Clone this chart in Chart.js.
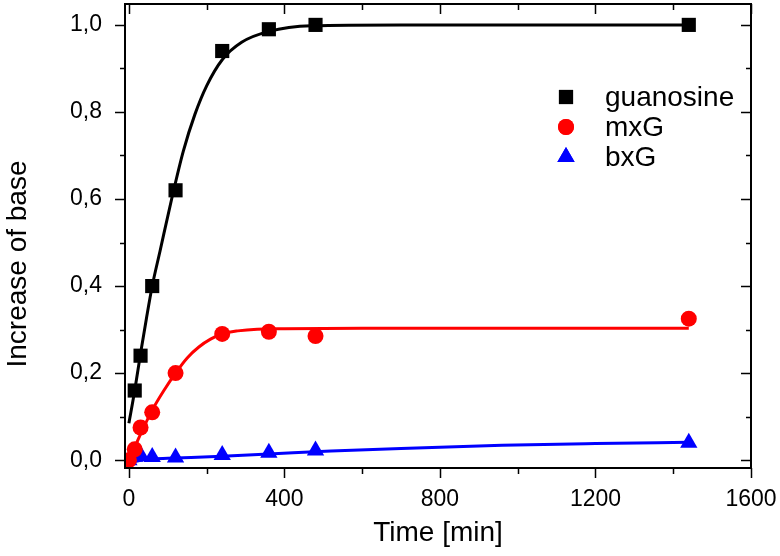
<!DOCTYPE html>
<html>
<head>
<meta charset="utf-8">
<script src="https://cdn.jsdelivr.net/npm/chart.js@4"></script>
<style>
  html, body { margin: 0; padding: 0; background: #fff; }
  #wrap { width: 780px; height: 556px; }
</style>
</head>
<body>
<div id="wrap"><canvas id="c"></canvas></div>
<script>
// measured points
const timeMin = [0, 15, 30, 60, 120, 240, 360, 480, 1440];
const guanosine = [null, 0.16, 0.24, 0.40, 0.62, 0.94, 0.99, 1.0, 1.0];
const mxG = [0.0, 0.025, 0.075, 0.11, 0.20, 0.29, 0.295, 0.285, 0.325];
const bxG = [0.0, 0.008, 0.012, 0.007, 0.006, 0.012, 0.017, 0.022, 0.04];

// fitted curves
const guanosineFitX = [0, 15, 30, 45, 60, 80, 110, 140, 170, 200, 240, 290, 360, 470, 700, 1440];
const guanosineFitY = [0.085, 0.16, 0.245, 0.325, 0.40, 0.48, 0.60, 0.71, 0.795, 0.86, 0.92, 0.96, 0.985, 0.998, 1.0, 1.0];
const mxGFitX = [0, 15, 30, 60, 90, 120, 150, 180, 210, 240, 280, 330, 400, 600, 1440];
const mxGFitY = [0.005, 0.03, 0.06, 0.115, 0.16, 0.20, 0.235, 0.26, 0.278, 0.29, 0.297, 0.301, 0.302, 0.303, 0.303];
const bxGFitX = [0, 30, 60, 120, 240, 360, 520, 700, 960, 1200, 1440];
const bxGFitY = [-0.006, 0.0, 0.003, 0.005, 0.009, 0.014, 0.021, 0.027, 0.034, 0.038, 0.041];

const xMajor = [0, 400, 800, 1200, 1600];
const xMinor = [200, 600, 1000, 1400];
const yMajor = [0, 0.2, 0.4, 0.6, 0.8, 1.0];
const yMinor = [0.1, 0.3, 0.5, 0.7, 0.9];

const FONT = '"Liberation Sans", Arial, sans-serif';

const pts = (xs, ys) => xs.map((x, i) => ({ x, y: ys[i] })).filter(p => p.y !== null);

const series = [
  { label: 'guanosine', color: '#000000', style: 'rect', radius: 10, ys: guanosine, fx: guanosineFitX, fy: guanosineFitY },
  { label: 'mxG', color: '#ff0000', style: 'circle', radius: 8, ys: mxG, fx: mxGFitX, fy: mxGFitY },
  { label: 'bxG', color: '#0000ff', style: 'triangle', radius: 10, ys: bxG, fx: bxGFitX, fy: bxGFitY },
];

const datasets = [];
series.forEach(s => {
  datasets.push({
    label: s.label,
    data: pts(timeMin, s.ys),
    pointStyle: s.style,
    pointRadius: s.radius,
    backgroundColor: s.color,
    borderColor: s.color,
    borderWidth: 0,
    showLine: false,
    order: 0,
  });
});
series.forEach(s => {
  datasets.push({
    label: s.label + ' fit',
    data: pts(s.fx, s.fy),
    pointRadius: 0,
    borderColor: s.color,
    borderWidth: 3,
    showLine: true,
    cubicInterpolationMode: 'monotone',
    order: 1,
  });
});

// frame, inward/outward ticks, y title and the legend box
const framePlugin = {
  id: 'frame',
  afterDraw(chart) {
    const { ctx, chartArea: a, scales: { x, y } } = chart;
    ctx.save();
    ctx.strokeStyle = '#000';
    ctx.lineWidth = 2;
    ctx.strokeRect(a.left, a.top, a.right - a.left, a.bottom - a.top);
    ctx.lineWidth = 1.5;
    ctx.beginPath();
    const xt = (list, len) => list.forEach(v => {
      const px = Math.round(x.getPixelForValue(v)) + 0.5;
      ctx.moveTo(px, a.bottom); ctx.lineTo(px, a.bottom + len);
      ctx.moveTo(px, a.top); ctx.lineTo(px, a.top + len);
    });
    const yt = (list, len) => list.forEach(v => {
      const py = Math.round(y.getPixelForValue(v)) + 0.5;
      ctx.moveTo(a.left, py); ctx.lineTo(a.left - len, py);
      ctx.moveTo(a.right, py); ctx.lineTo(a.right - len, py);
    });
    xt(xMajor, 10); xt(xMinor, 6);
    yt(yMajor, 10); yt(yMinor, 5);
    ctx.stroke();

    // y axis title, sits a bit below the middle in the original
    ctx.fillStyle = '#000';
    ctx.font = '28px ' + FONT;
    ctx.translate(26, 264);
    ctx.rotate(-Math.PI / 2);
    ctx.textAlign = 'center';
    ctx.textBaseline = 'alphabetic';
    ctx.fillText('Increase of base', 0, 0);
    ctx.setTransform(1, 0, 0, 1, 0, 0);

    // legend
    ctx.textAlign = 'left';
    series.forEach((s, i) => {
      const cy = a.top + 93 + i * 30;
      const cx = a.left + 441;
      ctx.fillStyle = s.color;
      Chart.helpers.drawPoint(ctx, { pointStyle: s.style, radius: s.radius, borderWidth: 0 }, cx, cy);
      ctx.fill();
      ctx.fillStyle = '#000';
      ctx.fillText(s.label, a.left + 480, cy + 9);
    });
    ctx.restore();
  },
};

new Chart(document.getElementById('c'), {
  type: 'scatter',
  data: { datasets },
  options: {
    responsive: true,
    maintainAspectRatio: false,
    animation: false,
    layout: { autoPadding: false, padding: { left: 0, right: 29, top: 4, bottom: 0 } },
    plugins: { legend: { display: false }, tooltip: { enabled: false } },
    scales: {
      x: {
        type: 'linear',
        min: -10,
        max: 1600,
        afterBuildTicks: s => { s.ticks = xMajor.map(v => ({ value: v })); },
        afterFit: s => { s.height = 88; s.paddingLeft = 0; s.paddingRight = 0; },
        grid: { display: false },
        border: { display: false },
        ticks: { color: '#000', font: { family: FONT, size: 23 }, padding: 10, maxRotation: 0, callback: v => String(v) },
        title: { display: true, text: 'Time [min]', color: '#000', font: { family: FONT, size: 28 }, padding: { top: 0, bottom: 6 } },
      },
      y: {
        min: -0.018,
        max: 1.048,
        afterBuildTicks: s => { s.ticks = yMajor.map(v => ({ value: v })); },
        afterFit: s => { s.width = 125; s.paddingTop = 0; s.paddingBottom = 0; },
        grid: { display: false },
        border: { display: false },
        ticks: {
          color: '#000', font: { family: FONT, size: 23 }, padding: 15,
          callback: v => v.toFixed(1).replace('.', ','),
        },
      },
    },
  },
  plugins: [framePlugin],
});
</script>
</body>
</html>
